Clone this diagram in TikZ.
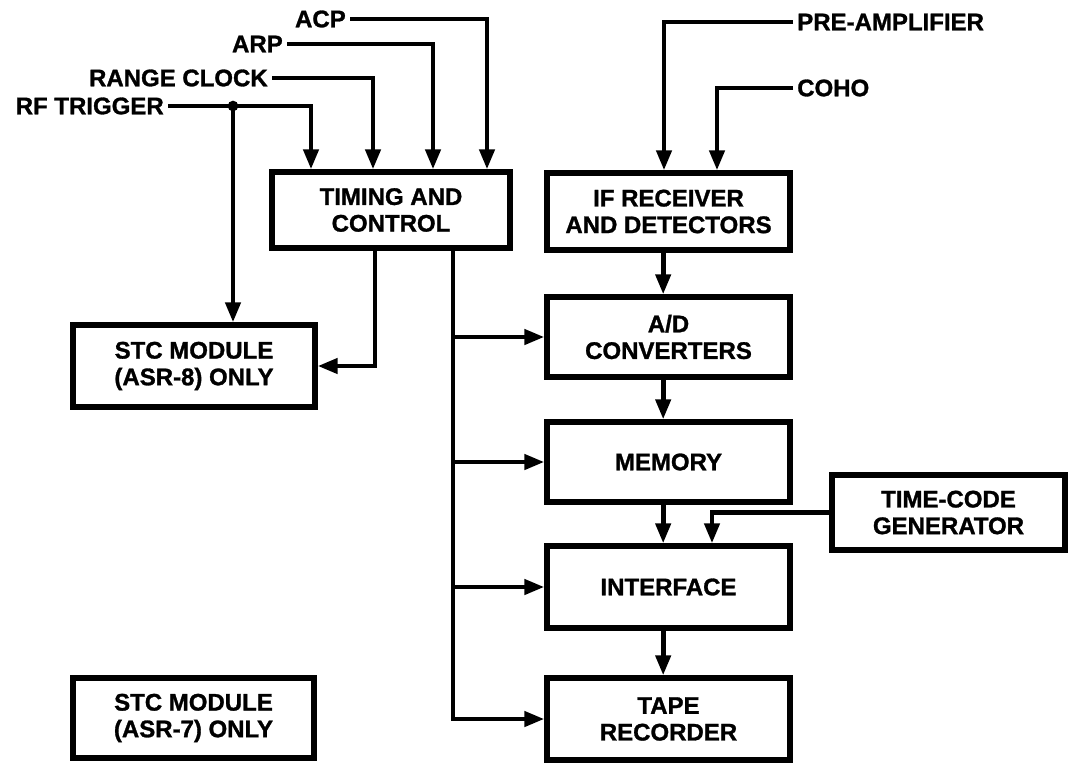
\documentclass[tikz,border=0pt]{standalone}
\usepackage{fontspec}
\setmainfont{Liberation Sans}[BoldFeatures={FakeBold=1.2}]
\usetikzlibrary{arrows.meta,shadows,calc}
\begin{document}
\begin{tikzpicture}[x=0.75pt,y=-0.75pt,
  txt/.style={font=\bfseries\fontsize{18}{20}\selectfont},
  box/.style={txt,draw,line width=3.8pt,fill=white,align=center,inner sep=0pt,
    drop shadow={shadow xshift=2.4pt,shadow yshift=-2.4pt,opacity=1,fill=black}},
  lbl/.style={txt,inner xsep=3pt,inner ysep=0pt},
  conn/.style={line width=3.6pt},
  arr/.style={conn,-{Triangle[length=15pt,width=11pt]}}]
\useasboundingbox[fill=white] (0,0) rectangle (1073,772);

% boxes
\node[box,minimum width=178.5pt,minimum height=57pt] (timing) at (391,210) {TIMING AND\\CONTROL};
\node[box,minimum width=182.25pt,minimum height=57.75pt] (ifrx) at (668.5,211.5) {IF RECEIVER\\AND DETECTORS};
\node[box,minimum width=182.25pt,minimum height=60pt] (ad) at (668.5,337) {A/D\\CONVERTERS};
\node[box,minimum width=182.25pt,minimum height=60pt] (mem) at (668.5,462) {MEMORY};
\node[box,minimum width=182.25pt,minimum height=61.5pt] (iface) at (668.5,587) {INTERFACE};
\node[box,minimum width=182.25pt,minimum height=61.5pt] (tape) at (668.5,719) {TAPE\\RECORDER};
\node[box,minimum width=181.5pt,minimum height=61.5pt] (stc8) at (194,366) {STC MODULE\\(ASR-8) ONLY};
\node[box,minimum width=180.75pt,minimum height=60pt] (stc7) at (193.5,718) {STC MODULE\\(ASR-7) ONLY};
\node[box,minimum width=174.75pt,minimum height=56.25pt] (tcg) at (948.5,512.5) {TIME-CODE\\GENERATOR};

% input labels
\node[lbl,anchor=east] (acp) at (350,19) {ACP};
\node[lbl,anchor=east] (arp) at (287,44) {ARP};
\node[lbl,anchor=east] (rc) at (272,78) {RANGE CLOCK};
\node[lbl,anchor=east] (rf) at (168,106) {RF TRIGGER};
\node[lbl,anchor=west] (pre) at (793,22) {PRE-AMPLIFIER};
\node[lbl,anchor=west] (coho) at (793,88) {COHO};

% target coordinates
\coordinate (tRF) at (311,0 |- timing.north);
\coordinate (tRC) at (373,0 |- timing.north);
\coordinate (tARP) at (433,0 |- timing.north);
\coordinate (tACP) at (487,0 |- timing.north);
\coordinate (jn) at (233,0 |- rf.east);
\coordinate (tPRE) at (664,0 |- ifrx.north);
\coordinate (tCOHO) at (717,0 |- ifrx.north);
\coordinate (sSTC) at (375,0 |- timing.south);
\coordinate (b0) at (453,0 |- timing.south);
\coordinate (bAD) at (453,0 |- ad.west);
\coordinate (bMEM) at (453,0 |- mem.west);
\coordinate (bIF) at (453,0 |- iface.west);
\coordinate (tTCG) at (712,0 |- iface.north);

% connectors into timing
\draw[arr] (rf.east) -| (tRF);
\draw[arr] (rc.east) -| (tRC);
\draw[arr] (arp.east) -| (tARP);
\draw[arr] (acp.east) -| (tACP);
\fill (jn) circle (4pt);
\draw[arr] (jn) -- (jn |- stc8.north);
\draw[arr] (sSTC) |- (stc8.east);

% receiver chain
\draw[arr] (pre.west) -| (tPRE);
\draw[arr] (coho.west) -| (tCOHO);
\draw[arr] ([xshift=-4pt]ifrx.south) -- ([xshift=-4pt]ad.north);
\draw[arr] ([xshift=-4pt]ad.south) -- ([xshift=-4pt]mem.north);
\draw[arr] ([xshift=-4pt]mem.south) -- ([xshift=-4pt]iface.north);
\draw[arr] ([xshift=-4pt]iface.south) -- ([xshift=-4pt]tape.north);
\draw[arr] (tcg.west) -| (tTCG);

% bus
\draw[arr] (b0) |- (tape.west);
\draw[arr] (bAD) -- (ad.west);
\draw[arr] (bMEM) -- (mem.west);
\draw[arr] (bIF) -- (iface.west);
\end{tikzpicture}
\end{document}
